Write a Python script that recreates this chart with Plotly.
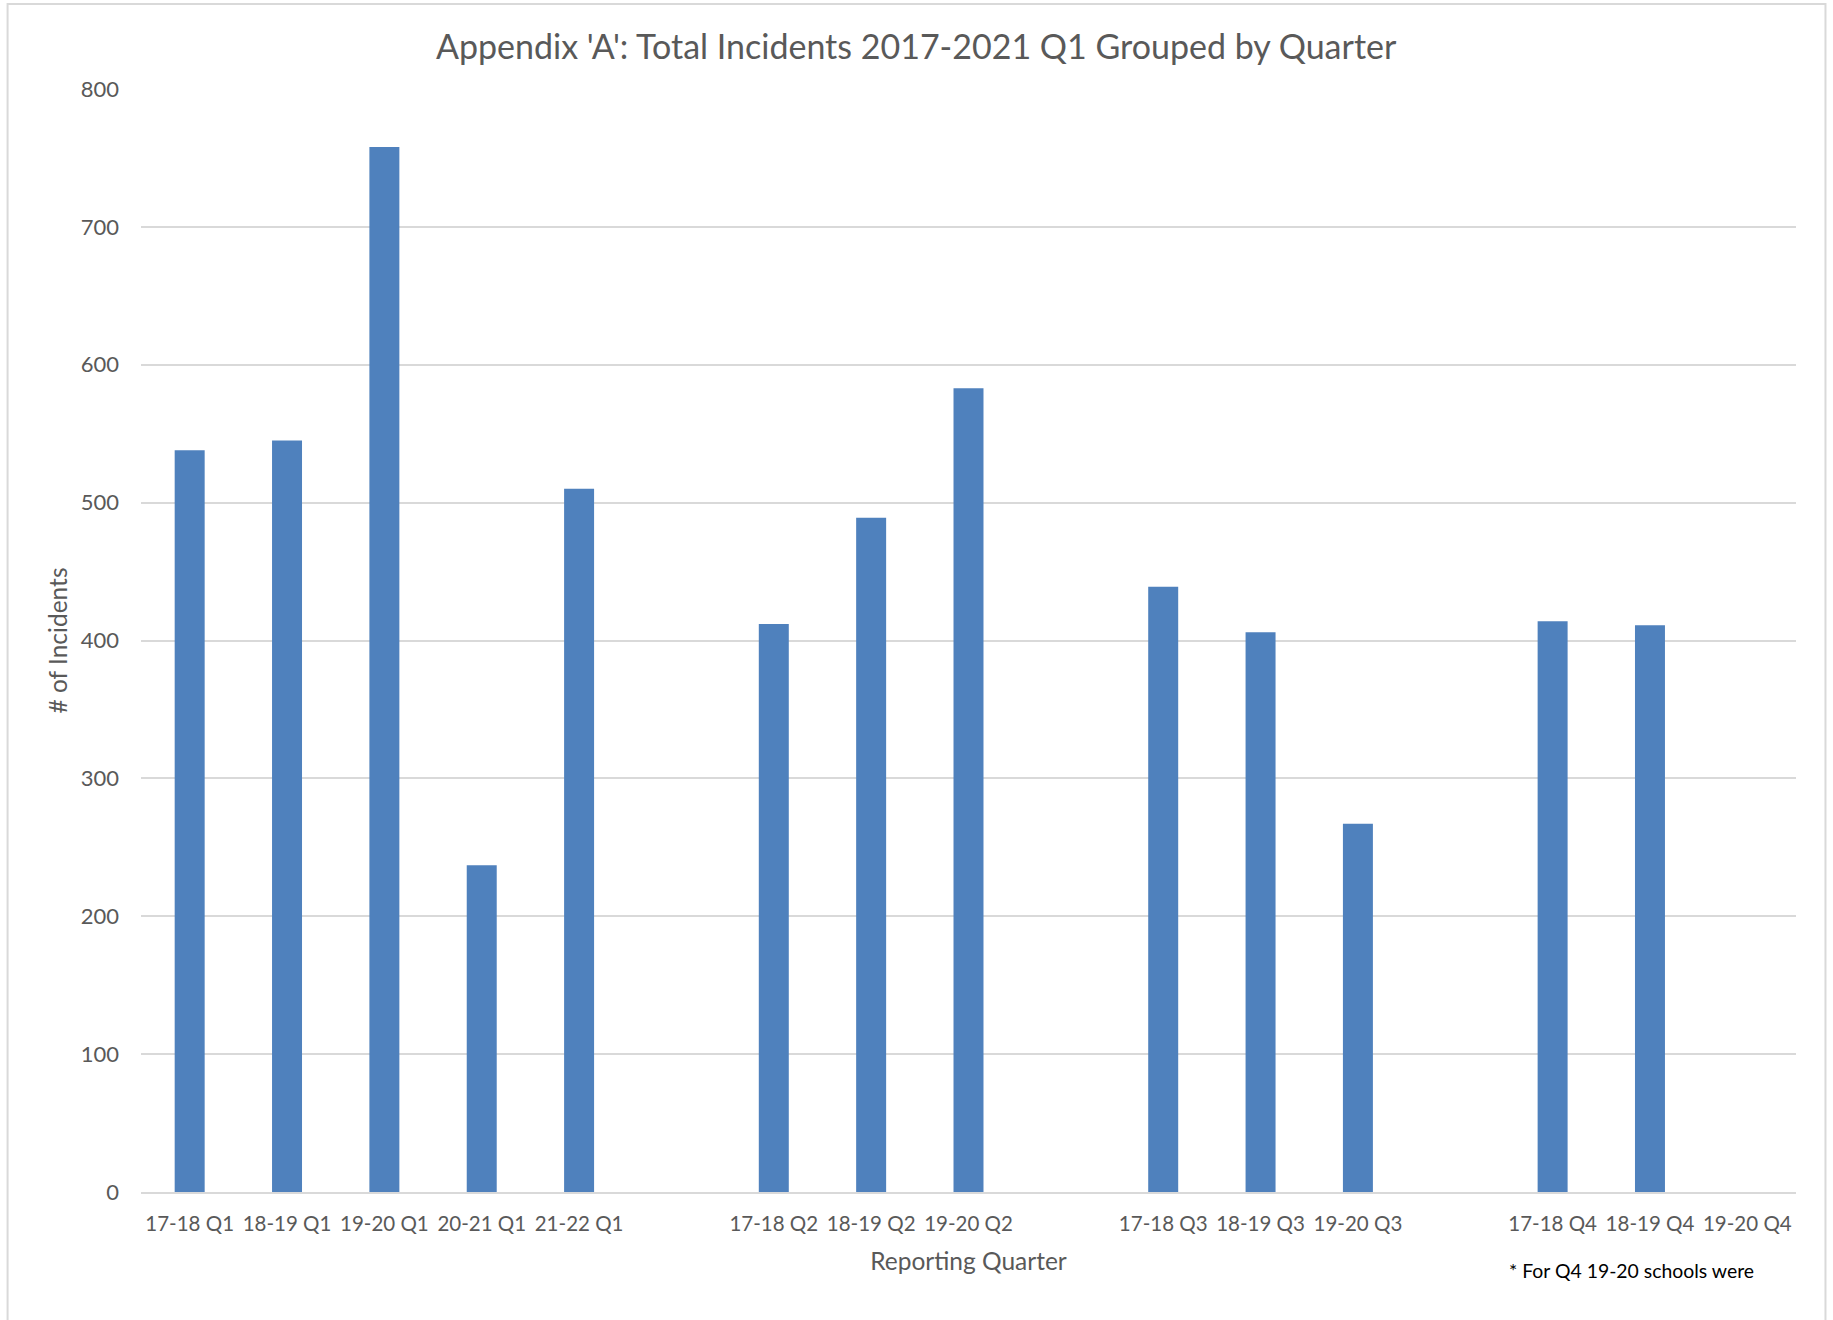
import plotly.graph_objects as go

# ---- data ----
quarter_labels = ["17-18 Q1", "18-19 Q1", "19-20 Q1", "20-21 Q1", "21-22 Q1",
                  "17-18 Q2", "18-19 Q2", "19-20 Q2",
                  "17-18 Q3", "18-19 Q3", "19-20 Q3",
                  "17-18 Q4", "18-19 Q4", "19-20 Q4"]
incidents = [538, 545, 758, 237, 510,
             412, 489, 583,
             439, 406, 267,
             414, 411, None]
group_sizes = [5, 3, 3, 3]
y_ticks = [0, 100, 200, 300, 400, 500, 600, 700, 800]

# build category sequence with blank spacer slots between quarter groups
cats, vals = [], []
i = 0
for g, n in enumerate(group_sizes):
    if g > 0:
        cats.append(" " * g)
        vals.append(None)
    cats.extend(quarter_labels[i:i + n])
    vals.extend(incidents[i:i + n])
    i += n

FONT = "Lato"
GREY = "#595959"

fig = go.Figure(go.Bar(x=cats, y=vals, marker=dict(color="#4F81BD", line=dict(width=0)),
                       hoverinfo="x+y"))

W, H = 1833, 1320
L, R, T, B = 140.5, 36.5, 88.5, 128
pw, ph = W - L - R, H - T - B

def px_x(p):
    return (p - L) / pw

def px_y(p):
    return (H - B - p) / ph

fig.update_layout(
    width=W, height=H,
    margin=dict(l=L, r=R, t=T, b=B, pad=0),
    paper_bgcolor="white", plot_bgcolor="white",
    bargap=0.692,
    showlegend=False,
    font=dict(family=FONT, color=GREY, size=21),
    xaxis=dict(
        type="category", categoryorder="array", categoryarray=cats,
        showgrid=False, showline=True, linecolor="#D9D9D9", linewidth=2,
        ticks="", tickfont=dict(family=FONT, size=20.5, color=GREY),
        ticklabelstandoff=12,
        title=dict(text="Reporting Quarter", font=dict(family=FONT, size=24.5, color=GREY), standoff=19),
        zeroline=False, fixedrange=True,
    ),
    yaxis=dict(
        range=[0, 800], tickvals=y_ticks, ticktext=[str(v) for v in y_ticks],
        showgrid=True, gridcolor="#D9D9D9", gridwidth=1.5,
        zeroline=False, showline=False, ticks="",
        tickfont=dict(family=FONT, size=22, color=GREY),
        ticklabelstandoff=21,
        title=dict(text="# of Incidents", font=dict(family=FONT, size=24.5, color=GREY), standoff=6),
        fixedrange=True,
    ),
    annotations=[
        dict(text="Appendix 'A': Total Incidents 2017-2021 Q1 Grouped by Quarter",
             xref="paper", yref="paper", x=px_x(916), y=px_y(45),
             xanchor="center", yanchor="middle", showarrow=False,
             font=dict(family=FONT, size=34, color=GREY)),
        dict(text="* For Q4 19-20 schools were",
             xref="paper", yref="paper", x=px_x(1507), y=px_y(1271),
             xanchor="left", yanchor="middle", showarrow=False,
             font=dict(family=FONT, size=19.4, color="#000000")),
    ],
    shapes=[
        dict(type="rect", xref="paper", yref="paper",
             x0=px_x(7), x1=px_x(1826), y0=px_y(1340), y1=px_y(3.5),
             line=dict(color="#D9D9D9", width=2), fillcolor="rgba(0,0,0,0)", layer="below"),
    ],
)

fig.write_html("out.html", config=dict(displayModeBar=False))
